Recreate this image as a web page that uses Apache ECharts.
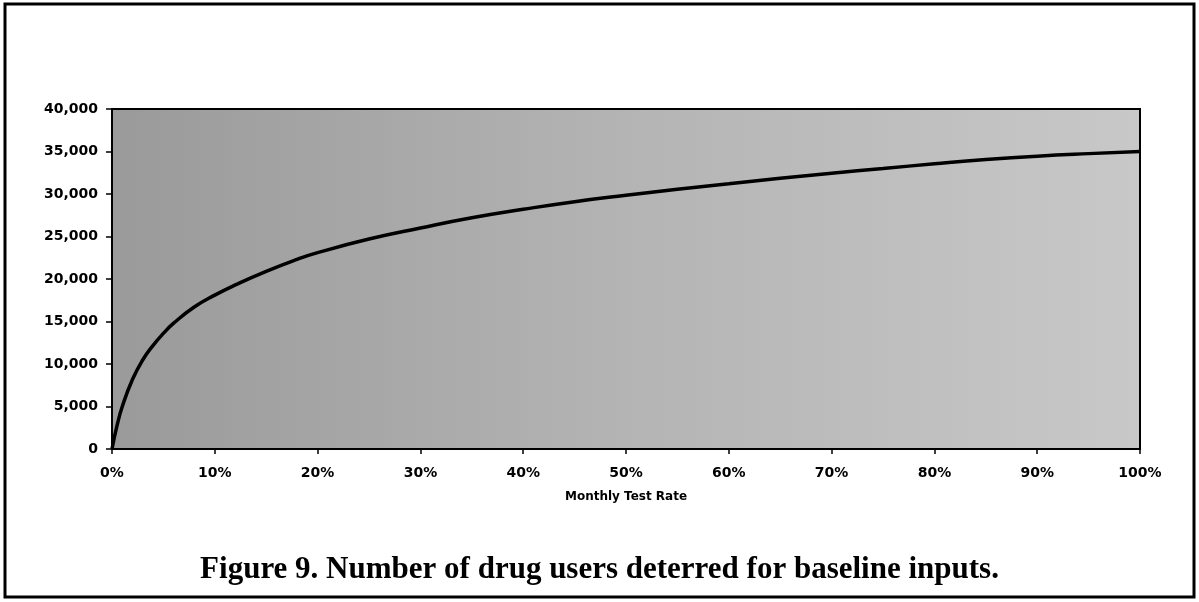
<!DOCTYPE html>
<html><head><meta charset="utf-8">
<script src="https://cdn.jsdelivr.net/npm/echarts@6/dist/echarts.min.js"></script>
<style>html,body{margin:0;padding:0;background:#fff}#c{width:1199px;height:602px}</style>
</head><body><div id="c"></div>
<script>
const testRate = [0, 0.5, 1, 2, 3, 4, 5, 6, 8, 10, 12, 15, 18, 20, 25, 30, 35, 40, 45, 50, 55, 60, 65, 70, 75, 80, 85, 90, 95, 100];
const deterred = [0, 2800, 5000, 8200, 10500, 12200, 13600, 14800, 16700, 18100, 19300, 20900, 22300, 23100, 24700, 26000, 27200, 28200, 29100, 29850, 30550, 31200, 31850, 32450, 33000, 33550, 34050, 34450, 34750, 35000];
const xTicks = [0, 10, 20, 30, 40, 50, 60, 70, 80, 90, 100];
const yTicks = [0, 5000, 10000, 15000, 20000, 25000, 30000, 35000, 40000];
const xTitle = 'Monthly Test Rate';
const caption = 'Figure 9. Number of drug users deterred for baseline inputs.';

const chart = echarts.init(document.getElementById('c'));
const fmt = v => v.toString().replace(/\B(?=(\d{3})+(?!\d))/g, ',');
chart.setOption({
  animation: false,
  backgroundColor: '#fff',
  grid: {
    left: 112, right: 59, top: 109, bottom: 153,
    show: true, borderColor: '#000', borderWidth: 2,
    backgroundColor: {type: 'linear', x: 0, y: 0, x2: 1, y2: 0,
      colorStops: [{offset: 0, color: '#9a9a9a'}, {offset: 0.5, color: '#b4b4b4'}, {offset: 1, color: '#c8c8c8'}]}
  },
  xAxis: {
    type: 'value', min: xTicks[0], max: xTicks[xTicks.length - 1], interval: 10,
    name: xTitle, nameLocation: 'middle', nameGap: 42,
    nameTextStyle: {fontFamily: 'DejaVu Sans', fontWeight: 'bold', fontSize: 12, color: '#000'},
    axisLine: {lineStyle: {color: '#000', width: 2}},
    axisTick: {show: true, inside: false, length: 5, lineStyle: {color: '#000', width: 1.5}},
    axisLabel: {formatter: '{value}%', fontFamily: 'DejaVu Sans', fontWeight: 'bold', fontSize: 14, color: '#000', margin: 17},
    splitLine: {show: false}
  },
  yAxis: {
    type: 'value', min: yTicks[0], max: yTicks[yTicks.length - 1], interval: 5000,
    axisLine: {show: true, lineStyle: {color: '#000', width: 2}},
    axisTick: {show: true, inside: false, length: 6, lineStyle: {color: '#000', width: 1.5}},
    axisLabel: {formatter: fmt, fontFamily: 'DejaVu Sans', fontWeight: 'bold', fontSize: 14, color: '#000', margin: 14},
    splitLine: {show: false}
  },
  series: [{
    type: 'line', smooth: 0.5, showSymbol: false,
    data: testRate.map((x, i) => [x, deterred[i]]),
    lineStyle: {color: '#000', width: 3.5}
  }],
  graphic: [
    {type: 'rect', shape: {x: 5, y: 4, width: 1189, height: 593}, style: {fill: 'none', stroke: '#000', lineWidth: 3}},
    {type: 'text', left: 'center', top: 554, style: {text: caption, font: 'bold 31px "Liberation Serif"', fill: '#000'}}
  ]
});
</script></body></html>
